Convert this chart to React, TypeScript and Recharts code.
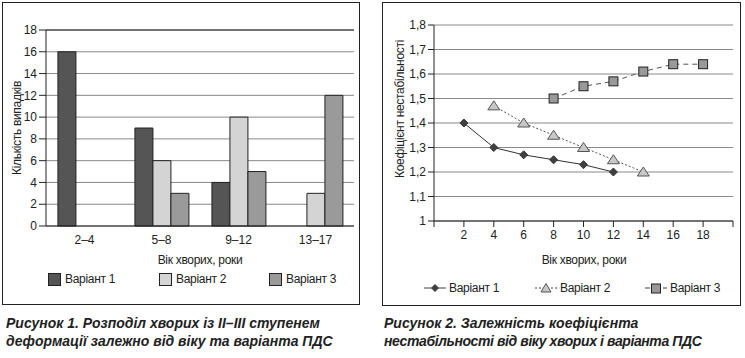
import * as React from "react";
import {
  Bar, BarChart, CartesianGrid, Line, LineChart, ReferenceLine, XAxis, YAxis,
} from "recharts";

// Рисунок 1
const AGE_GROUPS = ["2–4", "5–8", "9–12", "13–17"];
const BAR_V1 = [16, 9, 4, 0];
const BAR_V2 = [0, 6, 10, 3];
const BAR_V3 = [0, 3, 5, 12];
const BAR_TICKS = [0, 2, 4, 6, 8, 10, 12, 14, 16, 18];

// Рисунок 2
const LINE_V1 = [
  { age: 2, v: 1.4 }, { age: 4, v: 1.3 }, { age: 6, v: 1.27 },
  { age: 8, v: 1.25 }, { age: 10, v: 1.23 }, { age: 12, v: 1.2 },
];
const LINE_V2 = [
  { age: 4, v: 1.47 }, { age: 6, v: 1.4 }, { age: 8, v: 1.35 },
  { age: 10, v: 1.3 }, { age: 12, v: 1.25 }, { age: 14, v: 1.2 },
];
const LINE_V3 = [
  { age: 8, v: 1.5 }, { age: 10, v: 1.55 }, { age: 12, v: 1.57 },
  { age: 14, v: 1.61 }, { age: 16, v: 1.64 }, { age: 18, v: 1.64 },
];
const AGE_TICKS = [0, 2, 4, 6, 8, 10, 12, 14, 16, 18, 20];
const COEF_TICKS = [1, 1.1, 1.2, 1.3, 1.4, 1.5, 1.6, 1.7, 1.8];

const FONT = "'Liberation Sans', Arial, sans-serif";
const INK = "#222";
const TICK = { fontSize: 12, fill: INK, fontFamily: FONT };
const C1 = "#555555";
const C2 = "#d4d4d4";
const C3 = "#9a9a9a";

const barData = AGE_GROUPS.map((g, i) => ({ age: g, v1: BAR_V1[i], v2: BAR_V2[i], v3: BAR_V3[i] }));

const Diamond = ({ cx, cy }: any) =>
  cx == null ? null : <path d={`M${cx},${cy - 4}L${cx + 4},${cy}L${cx},${cy + 4}L${cx - 4},${cy}Z`} fill="#404040" stroke="#333" strokeWidth={1} />;
const Triangle = ({ cx, cy }: any) =>
  cx == null ? null : <path d={`M${cx},${cy - 5}L${cx + 6},${cy + 4}L${cx - 6},${cy + 4}Z`} fill="#c8c8c8" stroke="#555" strokeWidth={1} />;
const Square = ({ cx, cy }: any) =>
  cx == null ? null : <rect x={cx - 4.5} y={cy - 4.5} width={9} height={9} fill="#999" stroke="#222" strokeWidth={1} />;

const abs = (left: number, top: number, extra: React.CSSProperties = {}): React.CSSProperties => ({
  position: "absolute", left, top, ...extra,
});

const text12: React.CSSProperties = { fontSize: 12, color: INK, letterSpacing: -0.3, whiteSpace: "nowrap", lineHeight: "14px" };
const caption: React.CSSProperties = {
  fontSize: 14, fontWeight: "bold", fontStyle: "italic", color: INK, lineHeight: "18px", whiteSpace: "nowrap",
};

function BoxSwatch({ x, color, label }: { x: number; color: string; label: string }) {
  return (
    <>
      <div style={abs(x, 273, { width: 11, height: 11, background: color, border: `1px solid ${INK}` })} />
      <div style={abs(x + 17, 272, text12)}>{label}</div>
    </>
  );
}

function LineSwatch({ x, dash, shape, label }: { x: number; dash?: string; shape: React.ReactNode; label: string }) {
  return (
    <>
      <svg style={abs(x, 282)} width={24} height={12}>
        <line x1={0} y1={6} x2={22} y2={6} stroke="#444" strokeWidth={1} strokeDasharray={dash} />
        {shape}
      </svg>
      <div style={abs(x + 25, 281, text12)}>{label}</div>
    </>
  );
}

export default function App() {
  return (
    <div style={{ position: "absolute", left: 0, top: 0, width: 745, height: 358, background: "#fff", fontFamily: FONT }}>
      {/* ---------- Рисунок 1 ---------- */}
      <div style={abs(2, 2, { width: 356, height: 301, border: `1.5px solid ${INK}` })} />
      <div style={abs(0, 0)}>
        <BarChart width={372} height={310} data={barData} margin={{ top: 30, right: 18, left: 0, bottom: 54 }} barCategoryGap="15.5%" barGap={0}>
          <CartesianGrid horizontal vertical={false} stroke="#8a8a8a" />
          <XAxis xAxisId="edge" type="number" domain={[0, 4]} ticks={[0, 1, 2, 3, 4]} tick={false} axisLine={false} tickLine={{ stroke: INK }} tickSize={6} height={0} />
          <XAxis dataKey="age" tick={TICK} tickLine={false} axisLine={{ stroke: INK }} tickSize={6} tickMargin={3.5} height={30} interval={0} />
          <YAxis domain={[0, 18]} ticks={BAR_TICKS} tick={TICK} tickLine={{ stroke: INK }} axisLine={{ stroke: INK }} tickSize={7} tickMargin={2} width={46} interval={0} />
          <ReferenceLine y={18} stroke={INK} />
          <Bar dataKey="v1" fill={C1} stroke={INK} strokeWidth={1} isAnimationActive={false} />
          <Bar dataKey="v2" fill={C2} stroke={INK} strokeWidth={1} isAnimationActive={false} />
          <Bar dataKey="v3" fill={C3} stroke={INK} strokeWidth={1} isAnimationActive={false} />
        </BarChart>
      </div>
      <div style={abs(200, 253, { ...text12, transform: "translateX(-50%)" })}>Вік хворих, роки</div>
      <div style={abs(17, 128, { ...text12, transform: "translate(-50%, -50%) rotate(-90deg)" })}>Кількість випадків</div>
      <BoxSwatch x={48} color={C1} label="Варіант 1" />
      <BoxSwatch x={159} color={C2} label="Варіант 2" />
      <BoxSwatch x={269} color={C3} label="Варіант 3" />
      <div style={abs(6, 314, caption)}>
        Рисунок 1. Розподіл хворих із II–III ступенем<br />деформації залежно від віку та варіанта ПДС
      </div>

      {/* ---------- Рисунок 2 ---------- */}
      <div style={abs(382, 2, { width: 357, height: 302, border: `1.5px solid ${INK}` })} />
      <div style={abs(372, 0)}>
        <LineChart width={373} height={310} margin={{ top: 25, right: 12, left: 0, bottom: 59 }}>
          <CartesianGrid horizontal vertical={false} stroke="#8a8a8a" />
          <XAxis dataKey="age" type="number" domain={[0, 20]} ticks={AGE_TICKS} allowDuplicatedCategory={false}
            tickFormatter={(t: number) => (t === 0 || t === 20 ? "" : String(t))}
            tick={TICK} tickLine={{ stroke: INK }} axisLine={{ stroke: INK }} tickSize={6} tickMargin={3.5} height={30} interval={0} />
          <YAxis domain={[1, 1.8]} ticks={COEF_TICKS} tickFormatter={(t: number) => String(Math.round(t * 10) / 10).replace(".", ",")}
            tick={TICK} tickLine={{ stroke: INK }} axisLine={{ stroke: INK }} tickSize={6} tickMargin={2} width={62} interval={0} />
          <Line data={LINE_V1} dataKey="v" stroke="#333" strokeWidth={1} dot={<Diamond />} activeDot={false} isAnimationActive={false} />
          <Line data={LINE_V2} dataKey="v" stroke="#555" strokeWidth={1} strokeDasharray="2 2" dot={<Triangle />} activeDot={false} isAnimationActive={false} />
          <Line data={LINE_V3} dataKey="v" stroke="#555" strokeWidth={1} strokeDasharray="5 4" dot={<Square />} activeDot={false} isAnimationActive={false} />
        </LineChart>
      </div>
      <div style={abs(584, 253, { ...text12, transform: "translateX(-50%)" })}>Вік хворих, роки</div>
      <div style={abs(400, 109, { ...text12, transform: "translate(-50%, -50%) rotate(-90deg)" })}>Коефіцієнт нестабільності</div>
      <LineSwatch x={424} shape={<path d="M11,2L15,6L11,10L7,6Z" fill="#404040" />} label="Варіант 1" />
      <LineSwatch x={535} dash="2 2" shape={<path d="M11,1.5L16,10L6,10Z" fill="#c8c8c8" stroke="#555" />} label="Варіант 2" />
      <LineSwatch x={645} dash="5 4" shape={<rect x={6.5} y={2} width={9} height={9} fill="#999" stroke="#222" />} label="Варіант 3" />
      <div style={abs(384, 314, caption)}>
        Рисунок 2. Залежність коефіцієнта<br />
        <span style={{ letterSpacing: -0.4 }}>нестабільності від віку хворих і варіанта ПДС</span>
      </div>
    </div>
  );
}
